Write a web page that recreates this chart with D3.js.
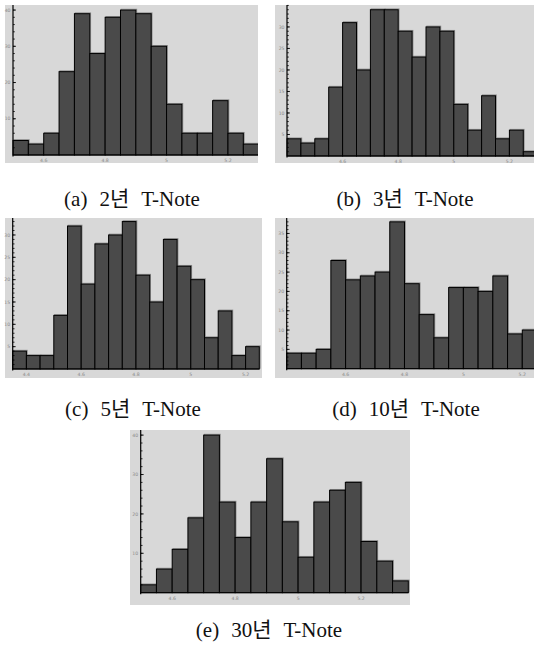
<!DOCTYPE html>
<html>
<head>
<meta charset="utf-8">
<script src="https://cdn.jsdelivr.net/npm/d3@7"></script>
<style>
html,body{margin:0;padding:0;background:#fff;}
svg{display:block;}
</style>
</head>
<body>
<svg id="chart" width="534" height="646"></svg>
<script>
// ---- data ----
const panelLetters = ["(a)", "(b)", "(c)", "(d)", "(e)"];
const panelNames = ["2년", "3년", "5년", "10년", "30년"];
const seriesName = "T-Note";
const binWidth = 0.05;
const binStarts = [4.5, 4.4, 4.35, 4.4, 4.5];
const counts2y = [4, 3, 6, 23, 39, 28, 38, 40, 39, 30, 14, 6, 6, 15, 6, 3];
const counts3y = [4, 3, 4, 16, 31, 20, 34, 34, 29, 23, 30, 29, 12, 6, 14, 4, 6, 1];
const counts5y = [4, 3, 3, 12, 32, 19, 28, 30, 33, 21, 15, 29, 23, 20, 7, 13, 3, 5];
const counts10y = [4, 4, 5, 28, 23, 24, 25, 38, 22, 14, 8, 21, 21, 20, 24, 9, 10];
const counts30y = [2, 6, 11, 19, 40, 23, 14, 23, 34, 18, 9, 23, 26, 28, 13, 8, 3];
const yTickLabels = [
  [10, 20, 30, 40],
  [5, 10, 15, 20, 25, 30],
  [5, 10, 15, 20, 25, 30],
  [5, 10, 15, 20, 25, 30, 35],
  [10, 20, 30, 40]
];
const yMinorStep = [2, 1, 1, 1, 2];
const xTickLabels = [
  [4.6, 4.8, 5, 5.2],
  [4.6, 4.8, 5, 5.2],
  [4.4, 4.6, 4.8, 5, 5.2],
  [4.6, 4.8, 5, 5.2],
  [4.6, 4.8, 5, 5.2]
];
const allCounts = [counts2y, counts3y, counts5y, counts10y, counts30y];

// ---- layout (pixel geometry only) ----
const layout = [
  {bg:[5,5,258,163],   ax:13,    base:155,   xd:[4.5,5.3],  xr:[13,258.7],   ymax:41.4, cap:[132,206]},
  {bg:[275,5,534,163], ax:287,   base:156,   xd:[4.4,5.3],  xr:[287,537.2],  ymax:35.1, cap:[405,206]},
  {bg:[5,218,262,378], ax:12.7,  base:369,   xd:[4.35,5.25],xr:[12.7,259.3], ymax:33.8, cap:[133,416]},
  {bg:[275,218,534,378],ax:286.7,base:368.7, xd:[4.4,5.25], xr:[286.7,537],  ymax:39.0, cap:[406,416]},
  {bg:[130,430,410,605],ax:140.7,base:592.7, xd:[4.5,5.35], xr:[140.7,408.3],ymax:41.3, cap:[269,637]}
];

const svg = d3.select("#chart");
const defs = svg.append("defs");

allCounts.forEach((counts, p) => {
  const L = layout[p];
  const [bx0, by0, bx1, by1] = L.bg;
  const g = svg.append("g");

  defs.append("clipPath").attr("id", "clip" + p)
    .append("rect").attr("x", bx0).attr("y", by0).attr("width", bx1 - bx0).attr("height", by1 - by0);

  g.append("rect").attr("x", bx0).attr("y", by0).attr("width", bx1 - bx0).attr("height", by1 - by0)
    .attr("fill", "#d8d8d8");

  const x = d3.scaleLinear().domain(L.xd).range(L.xr);
  const y = d3.scaleLinear().domain([0, L.ymax]).range([L.base, by0]);

  const bins = counts.map((c, i) => ({x0: binStarts[p] + i * binWidth, x1: binStarts[p] + (i + 1) * binWidth, c}));

  const bars = g.append("g").attr("clip-path", "url(#clip" + p + ")");
  bars.selectAll("rect.halo").data(bins).join("rect").attr("class", "halo")
    .attr("x", d => x(d.x0) + 0.8).attr("y", d => y(d.c) - 0.8)
    .attr("width", d => x(d.x1) - x(d.x0)).attr("height", d => y(0) - y(d.c))
    .attr("fill", "none").attr("stroke", "#8a8a8a").attr("stroke-width", 1);
  bars.selectAll("rect.bar").data(bins).join("rect").attr("class", "bar")
    .attr("x", d => x(d.x0)).attr("y", d => y(d.c))
    .attr("width", d => x(d.x1) - x(d.x0)).attr("height", d => y(0) - y(d.c))
    .attr("fill", "#4a4a4a").attr("stroke", "#000").attr("stroke-width", 1);

  g.append("line").attr("x1", L.ax).attr("x2", Math.min(L.xr[1], bx1)).attr("y1", y(0)).attr("y2", y(0))
    .attr("stroke", "#000").attr("stroke-width", 1);

  const yAxis = g.append("g");
  yAxis.append("line").attr("x1", L.ax).attr("x2", L.ax).attr("y1", y(0) + 1.5).attr("y2", by0)
    .attr("stroke", "#000").attr("stroke-width", 1.2);
  const minor = d3.range(yMinorStep[p], L.ymax, yMinorStep[p]);
  yAxis.selectAll("line.minor").data(minor).join("line").attr("class", "minor")
    .attr("x1", L.ax).attr("x2", L.ax + 1.8).attr("y1", d => y(d)).attr("y2", d => y(d))
    .attr("stroke", "#000").attr("stroke-width", 0.8);
  yAxis.selectAll("line.major").data(yTickLabels[p]).join("line").attr("class", "major")
    .attr("x1", L.ax).attr("x2", L.ax + 3).attr("y1", d => y(d)).attr("y2", d => y(d))
    .attr("stroke", "#000").attr("stroke-width", 0.8);
  yAxis.selectAll("text").data(yTickLabels[p]).join("text")
    .attr("x", L.ax - 2.5).attr("y", d => y(d) + 1.6)
    .attr("text-anchor", "end").attr("font-size", 4.6).attr("fill", "#8a8a8a")
    .attr("font-family", "DejaVu Sans, sans-serif")
    .text(d => d);

  g.append("g").selectAll("text").data(xTickLabels[p]).join("text")
    .attr("x", d => x(d)).attr("y", y(0) + 6.8)
    .attr("text-anchor", "middle").attr("font-size", 4.6).attr("fill", "#8a8a8a")
    .attr("font-family", "DejaVu Sans, sans-serif")
    .text(d => d3.format("~g")(d));

  const t = svg.append("text")
    .attr("x", L.cap[0]).attr("y", L.cap[1])
    .attr("text-anchor", "middle")
    .attr("font-family", "'Liberation Serif', 'Noto Sans CJK KR', serif")
    .attr("font-size", 21).attr("fill", "#111");
  t.append("tspan").text(panelLetters[p]);
  t.append("tspan").attr("dx", 12).text(panelNames[p]);
  t.append("tspan").attr("dx", 12).text(seriesName);
});
</script>
</body>
</html>
